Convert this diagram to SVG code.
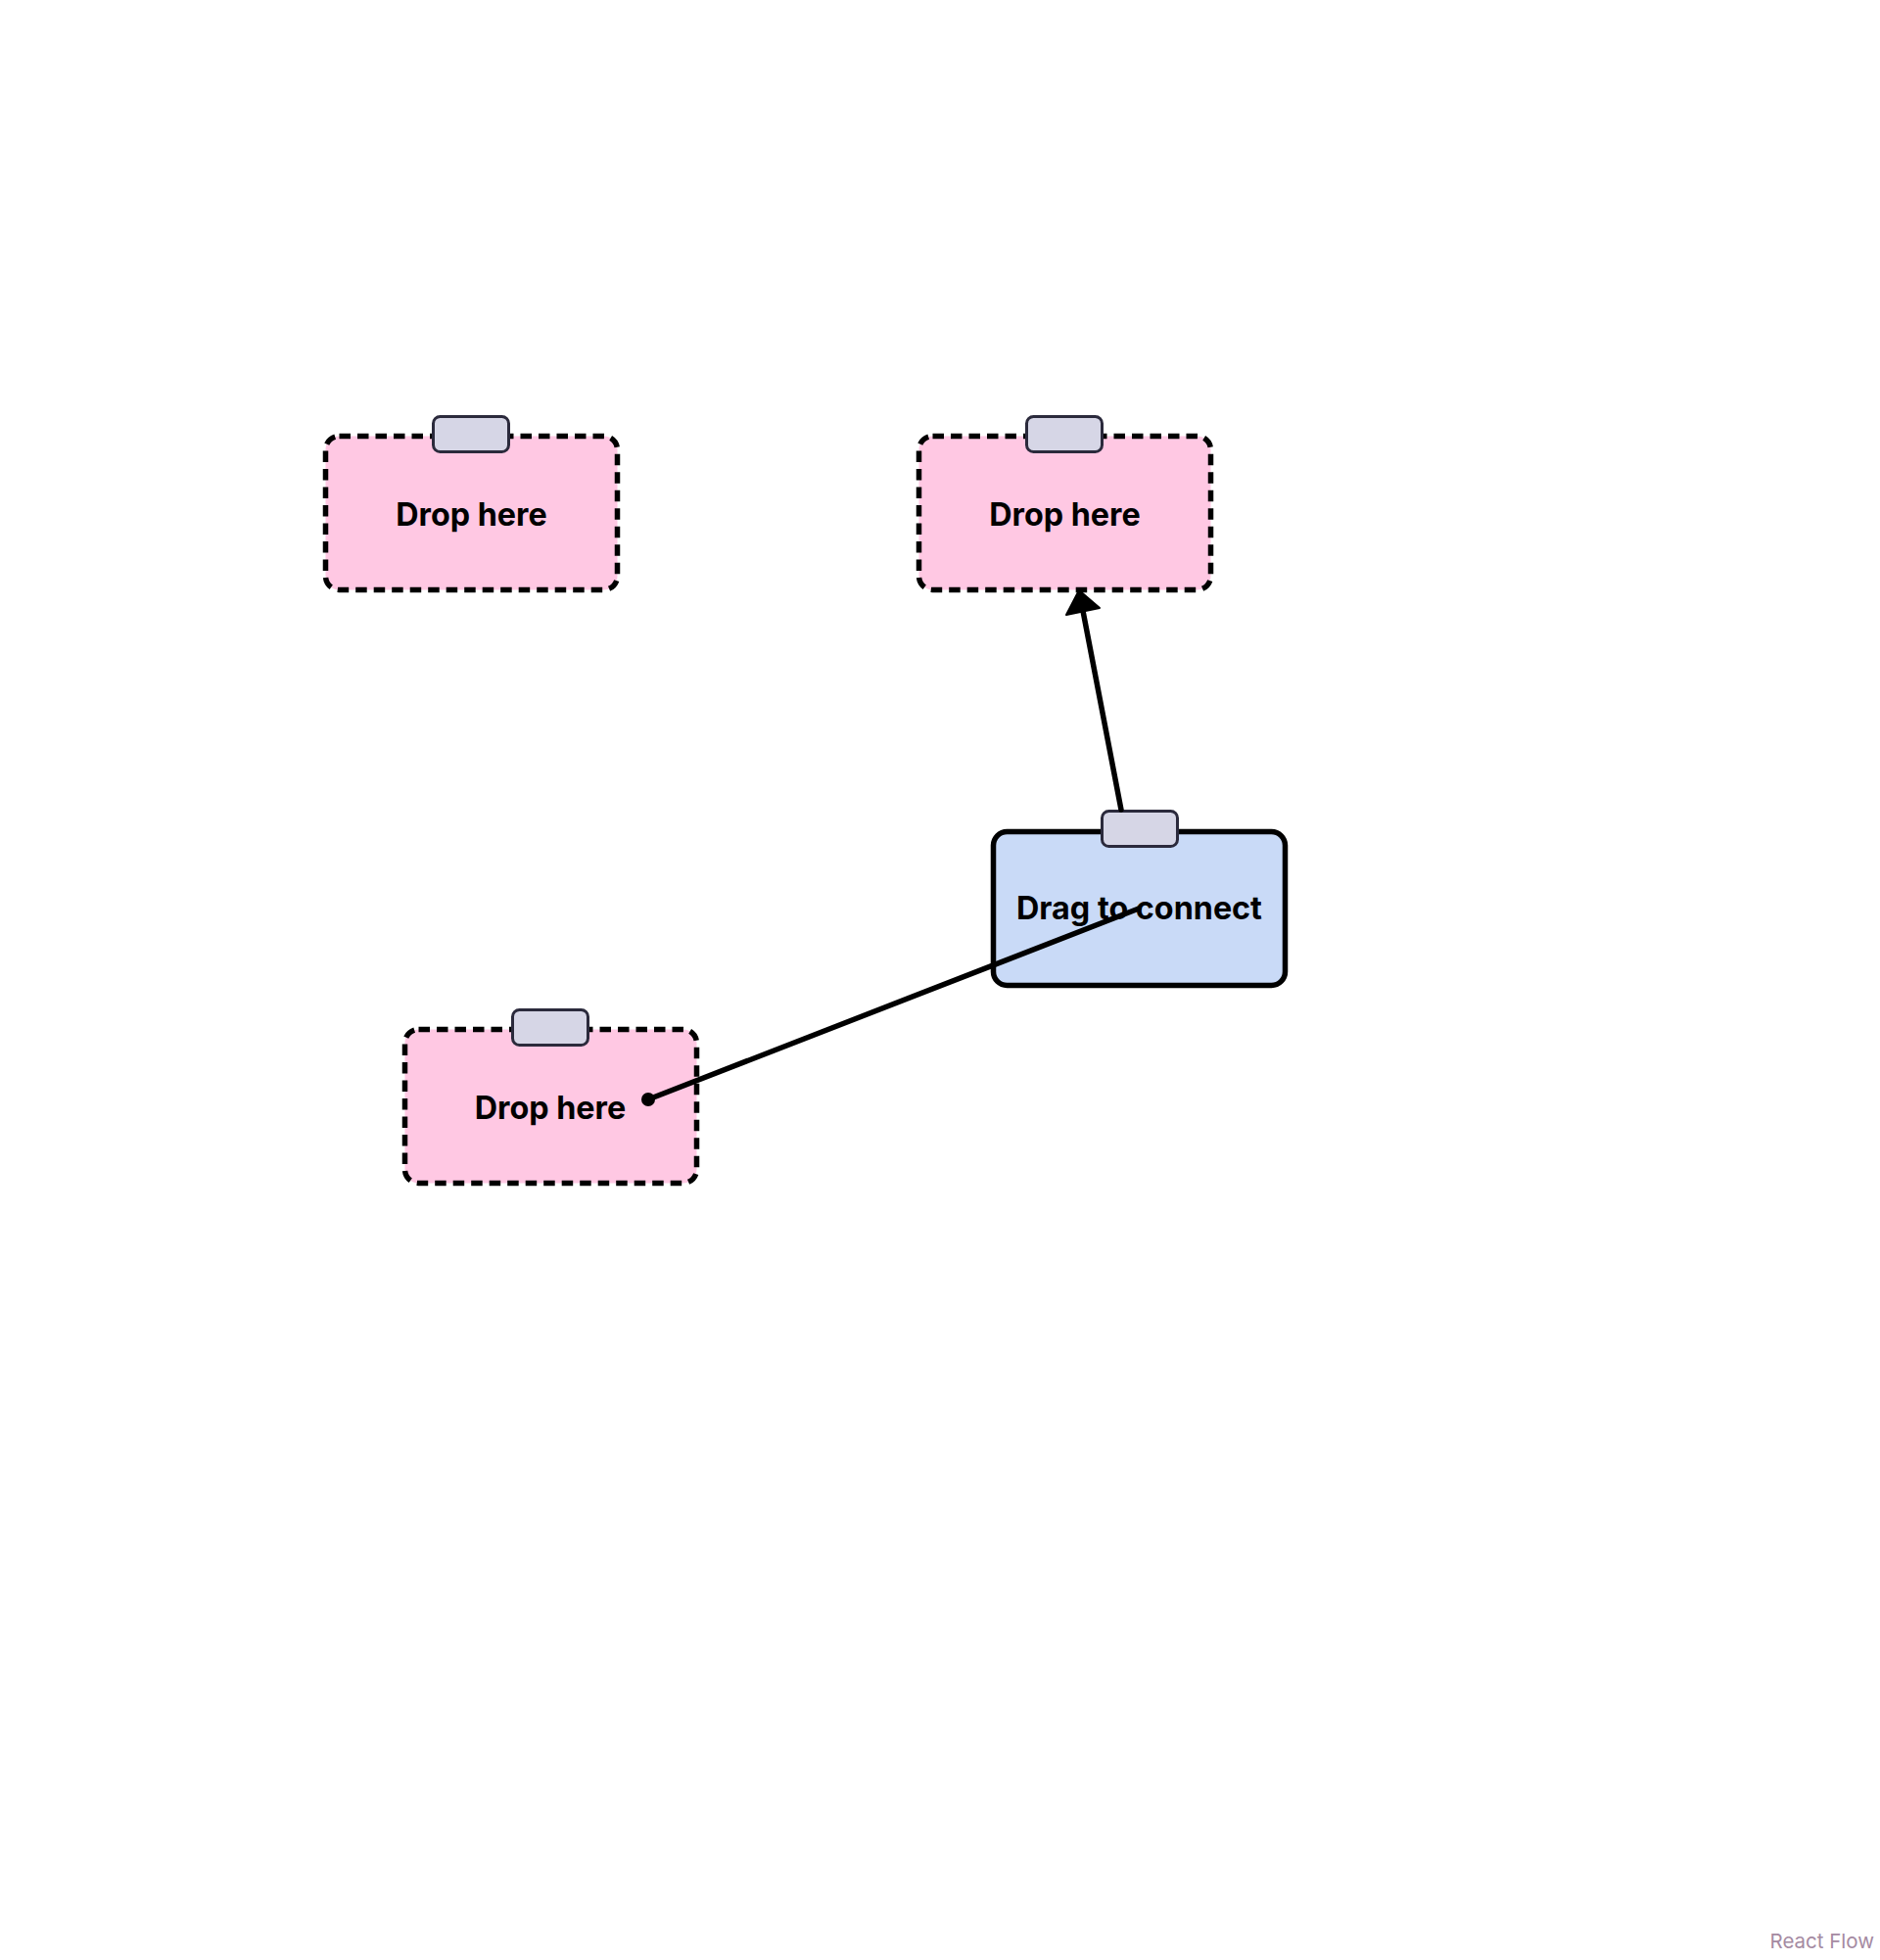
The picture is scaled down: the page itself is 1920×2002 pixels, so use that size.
<svg xmlns="http://www.w3.org/2000/svg" width="1920" height="2002" viewBox="0 0 1920 2002">
  <style>
    .drop { fill: #ffc8e3; stroke: #000; stroke-width: 5.5; stroke-dasharray: 11.5 7; }
    .drag { fill: #c9daf7; stroke: #000; stroke-width: 5.5; }
    .handle { fill: #d6d6e6; stroke: #2b2a3c; stroke-width: 3; }
    .label { font-family: Inter, "Liberation Sans", sans-serif; font-weight: 700; font-size: 32.3px; fill: #000; text-anchor: middle; }
    .edge { stroke: #000; stroke-width: 5.5; fill: none; stroke-linecap: round; }
    .attr { font-family: Inter, "Liberation Sans", sans-serif; font-size: 20.5px; fill: #a58aa2; text-anchor: end; }
  </style>
  <rect width="1920" height="2002" fill="#ffffff"/>
  <g id="node-drop-1">
    <rect class="drop" x="332.5" y="445.5" width="298" height="157" rx="14"/>
    <rect class="handle" x="442.5" y="425.5" width="77" height="36" rx="7"/>
    <text class="label" x="481.5" y="537">Drop here</text>
  </g>
  <g id="node-drop-2">
    <rect class="drop" x="938.5" y="445.5" width="298" height="157" rx="14"/>
    <rect class="handle" x="1048.5" y="425.5" width="77" height="36" rx="7"/>
    <text class="label" x="1087.5" y="537">Drop here</text>
  </g>
  <g id="node-drag">
    <rect class="drag" x="1014.5" y="849.5" width="298" height="157" rx="14"/>
    <rect class="handle" x="1125.5" y="828.5" width="77" height="36" rx="7"/>
    <text class="label" x="1163.5" y="939">Drag to connect</text>
  </g>
  <g id="node-drop-3">
    <rect class="drop" x="413.5" y="1051.5" width="298" height="157" rx="14"/>
    <rect class="handle" x="523.5" y="1031.5" width="77" height="36" rx="7"/>
    <text class="label" x="562" y="1143">Drop here</text>
  </g>
  <g id="connectors">
    <line class="edge" x1="1145" y1="827" x2="1106" y2="624"/>
    <polygon points="1102,603 1089,628 1123,621" fill="#000" stroke="#000" stroke-width="2" stroke-linejoin="round"/>
    <line class="edge" x1="1163" y1="928" x2="662" y2="1123"/>
    <circle cx="662" cy="1123" r="7" fill="#000"/>
  </g>
  <text class="attr" x="1914" y="1990">React Flow</text>
</svg>
